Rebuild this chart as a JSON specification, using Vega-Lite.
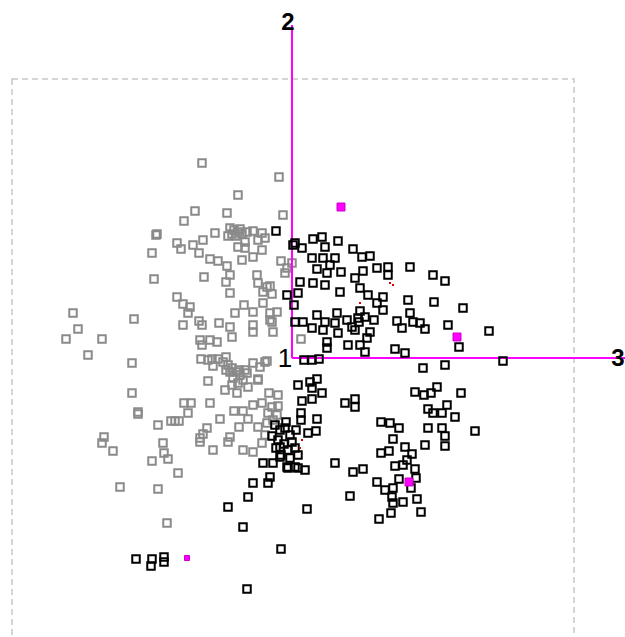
{
  "$schema": "https://vega.github.io/schema/vega-lite/v6.json",
  "width": 625,
  "height": 637,
  "padding": 0,
  "autosize": {"type": "none"},
  "background": "white",
  "config": {"view": {"stroke": null}},
  "datasets": {
    "gray": [
      {"x":202,"y":163},{"x":279,"y":177},{"x":238,"y":195},{"x":195,"y":211},{"x":184,"y":221},{"x":227,"y":213},{"x":283,"y":215},{"x":157,"y":234},{"x":156,"y":235},
      {"x":230,"y":228},{"x":234,"y":230},{"x":238,"y":232},{"x":232,"y":234},{"x":236,"y":236},{"x":240,"y":229},{"x":228,"y":236},{"x":242,"y":234},
      {"x":215,"y":233},{"x":203,"y":240},{"x":193,"y":245},{"x":177,"y":243},{"x":181,"y":249},{"x":199,"y":253},{"x":152,"y":253},
      {"x":247,"y":232},{"x":253,"y":231},{"x":262,"y":233},{"x":265,"y":238},{"x":258,"y":240},{"x":245,"y":242},{"x":238,"y":247},{"x":245,"y":248},{"x":262,"y":250},{"x":253,"y":257},{"x":242,"y":260},{"x":210,"y":259},{"x":218,"y":261},{"x":227,"y":266},
      {"x":154,"y":279},{"x":204,"y":277},{"x":230,"y":275},{"x":226,"y":282},{"x":230,"y":293},{"x":257,"y":275},{"x":258,"y":283},{"x":267,"y":287},{"x":272,"y":294},{"x":263,"y":292},{"x":270,"y":286},{"x":263,"y":303},
      {"x":281,"y":261},{"x":287,"y":268},{"x":292,"y":263},{"x":285,"y":273},
      {"x":177,"y":297},{"x":183,"y":304},{"x":190,"y":307},{"x":188,"y":313},{"x":199,"y":321},{"x":202,"y":325},{"x":183,"y":325},{"x":219,"y":323},{"x":230,"y":327},{"x":232,"y":337},
      {"x":235,"y":313},{"x":244,"y":305},{"x":253,"y":312},{"x":270,"y":313},{"x":272,"y":322},{"x":277,"y":312},{"x":270,"y":320},{"x":273,"y":332},{"x":253,"y":325},{"x":253,"y":332},
      {"x":200,"y":340},{"x":210,"y":340},{"x":217,"y":342},{"x":202,"y":345},{"x":201,"y":359},{"x":208,"y":360},{"x":212,"y":359},{"x":218,"y":359},{"x":226,"y":357},
      {"x":223,"y":362},{"x":228,"y":365},{"x":232,"y":368},{"x":236,"y":372},{"x":240,"y":375},{"x":233,"y":378},{"x":243,"y":380},{"x":238,"y":383},{"x":230,"y":372},{"x":226,"y":370},{"x":245,"y":370},
      {"x":239,"y":370},{"x":247,"y":373},{"x":208,"y":381},{"x":213,"y":366},{"x":253,"y":363},{"x":265,"y":362},{"x":267,"y":361},{"x":260,"y":367},{"x":258,"y":379},
      {"x":73,"y":313},{"x":78,"y":329},{"x":66,"y":339},{"x":102,"y":339},{"x":88,"y":355},{"x":134,"y":319},{"x":132,"y":363},{"x":132,"y":393},
      {"x":301,"y":339},
      {"x":138,"y":412},{"x":138,"y":414},{"x":184,"y":403},{"x":191,"y":403},{"x":188,"y":413},{"x":210,"y":403},{"x":225,"y":390},{"x":237,"y":393},{"x":232,"y":385},{"x":248,"y":387},{"x":258,"y":380},
      {"x":171,"y":421},{"x":175,"y":421},{"x":179,"y":421},
      {"x":158,"y":425},{"x":207,"y":428},{"x":203,"y":434},{"x":200,"y":438},{"x":200,"y":442},{"x":220,"y":419},{"x":234,"y":411},{"x":243,"y":411},{"x":248,"y":419},{"x":239,"y":427},{"x":230,"y":437},{"x":228,"y":442},
      {"x":253,"y":405},{"x":262,"y":403},{"x":269,"y":393},{"x":278,"y":395},{"x":268,"y":413},{"x":272,"y":407},{"x":278,"y":406},{"x":277,"y":415},{"x":258,"y":427},{"x":267,"y":423},{"x":273,"y":420},{"x":265,"y":435},{"x":262,"y":443},
      {"x":243,"y":450},{"x":253,"y":452},{"x":213,"y":450},{"x":104,"y":437},{"x":102,"y":443},{"x":113,"y":451},{"x":163,"y":443},{"x":164,"y":453},{"x":168,"y":459},{"x":152,"y":461},{"x":178,"y":473},{"x":120,"y":487},{"x":158,"y":489},{"x":167,"y":523}
    ],
    "black": [
      {"x":276,"y":231},
      {"x":293,"y":245},{"x":295,"y":243},{"x":302,"y":248},{"x":313,"y":239},{"x":322,"y":237},{"x":338,"y":241},{"x":325,"y":247},{"x":312,"y":258},{"x":323,"y":258},{"x":335,"y":258},{"x":330,"y":265},{"x":317,"y":269},{"x":341,"y":272},{"x":327,"y":273},
      {"x":353,"y":249},{"x":362,"y":257},{"x":370,"y":256},{"x":377,"y":268},{"x":388,"y":267},{"x":388,"y":275},{"x":410,"y":267},{"x":433,"y":275},{"x":445,"y":281},
      {"x":300,"y":282},{"x":313,"y":283},{"x":325,"y":285},{"x":340,"y":292},{"x":355,"y":278},{"x":363,"y":271},{"x":360,"y":288},{"x":368,"y":295},
      {"x":287,"y":295},{"x":298,"y":293},{"x":294,"y":305},{"x":383,"y":297},{"x":377,"y":303},{"x":383,"y":310},{"x":360,"y":311},{"x":358,"y":318},{"x":365,"y":317},{"x":408,"y":300},{"x":434,"y":302},{"x":463,"y":308},
      {"x":295,"y":322},{"x":303,"y":322},{"x":317,"y":315},{"x":312,"y":328},{"x":325,"y":322},{"x":337,"y":313},{"x":347,"y":320},{"x":352,"y":327},{"x":335,"y":323},{"x":359,"y":322},{"x":374,"y":320},{"x":323,"y":330},{"x":338,"y":333},{"x":355,"y":330},{"x":370,"y":332},{"x":367,"y":338},{"x":327,"y":342},{"x":327,"y":348},{"x":348,"y":345},{"x":360,"y":345},{"x":365,"y":352},
      {"x":395,"y":349},{"x":405,"y":353},{"x":397,"y":321},{"x":410,"y":313},{"x":413,"y":322},{"x":420,"y":323},{"x":425,"y":329},{"x":402,"y":328},{"x":448,"y":325},{"x":489,"y":331},{"x":459,"y":347},
      {"x":304,"y":360},{"x":312,"y":360},{"x":319,"y":359},{"x":503,"y":361},{"x":423,"y":368},{"x":445,"y":365},
      {"x":298,"y":385},{"x":310,"y":382},{"x":317,"y":379},{"x":312,"y":388},{"x":322,"y":393},{"x":302,"y":401},{"x":312,"y":399},{"x":345,"y":403},{"x":355,"y":399},{"x":355,"y":407},{"x":301,"y":413},{"x":301,"y":420},{"x":317,"y":419},{"x":308,"y":433},{"x":316,"y":431},
      {"x":275,"y":425},{"x":280,"y":430},{"x":285,"y":428},{"x":290,"y":435},{"x":278,"y":440},{"x":284,"y":444},{"x":292,"y":442},{"x":288,"y":450},{"x":276,"y":448},{"x":295,"y":448},{"x":281,"y":455},{"x":290,"y":458},{"x":272,"y":436},{"x":296,"y":430},{"x":286,"y":422},{"x":280,"y":447},{"x":287,"y":467},{"x":295,"y":467},{"x":280,"y":457},{"x":298,"y":455},
      {"x":263,"y":463},{"x":273,"y":463},{"x":288,"y":468},{"x":298,"y":468},{"x":305,"y":470},{"x":335,"y":463},{"x":353,"y":472},{"x":363,"y":469},{"x":253,"y":483},{"x":268,"y":483},{"x":270,"y":477},{"x":350,"y":496},{"x":307,"y":509},{"x":248,"y":497},{"x":228,"y":507},{"x":243,"y":527},{"x":281,"y":549},{"x":247,"y":589},
      {"x":136,"y":559},{"x":152,"y":559},{"x":151,"y":566},{"x":164,"y":557},{"x":164,"y":562},
      {"x":415,"y":392},{"x":424,"y":395},{"x":431,"y":393},{"x":437,"y":387},{"x":461,"y":393},{"x":428,"y":409},{"x":433,"y":413},{"x":442,"y":413},{"x":447,"y":405},{"x":455,"y":417},{"x":428,"y":428},{"x":442,"y":428},{"x":445,"y":436},{"x":445,"y":446},{"x":475,"y":431},{"x":381,"y":422},{"x":390,"y":423},{"x":399,"y":428},{"x":393,"y":439},{"x":425,"y":445},{"x":381,"y":453},{"x":389,"y":451},{"x":405,"y":447},{"x":412,"y":454},{"x":395,"y":466},{"x":403,"y":465},{"x":415,"y":469},{"x":407,"y":460},{"x":377,"y":482},{"x":385,"y":490},{"x":393,"y":488},{"x":399,"y":479},{"x":416,"y":478},{"x":411,"y":488},{"x":392,"y":497},{"x":393,"y":503},{"x":403,"y":502},{"x":417,"y":499},{"x":421,"y":512},{"x":391,"y":513},{"x":379,"y":519}
    ],
    "red": [
      {"x":393,"y":285},{"x":390,"y":283},{"x":302,"y":440},{"x":300,"y":448},{"x":360,"y":303}
    ],
    "magenta": [
      {"x":341,"y":207,"s":"big"},{"x":457,"y":337,"s":"big"},{"x":409,"y":482,"s":"big"},{"x":187,"y":558,"s":"small"}
    ],
    "axes": [
      {"x":292,"y":25,"x2":292,"y2":358},
      {"x":292,"y":358,"x2":625,"y2":358}
    ],
    "box": [
      {"x":12,"y":79,"x2":574,"y2":660}
    ],
    "labelsBold": [
      {"x":288,"y":23,"t":"2"},
      {"x":618,"y":359,"t":"3"}
    ],
    "labelsThin": [
      {"x":285,"y":359,"t":"1"}
    ]
  },
  "encoding": {
    "x": {"field":"x","type":"quantitative","scale":{"domain":[0,625],"nice":false,"zero":false},"axis":null},
    "y": {"field":"y","type":"quantitative","scale":{"domain":[0,637],"nice":false,"zero":false,"reverse":true},"axis":null}
  },
  "layer": [
    {
      "data": {"name":"box"},
      "mark": {"type":"rect","fill":null,"stroke":"#c8c8c8","strokeWidth":1.5,"strokeDash":[6,4]},
      "encoding": {"x2":{"field":"x2"},"y2":{"field":"y2"}}
    },
    {
      "data": {"name":"gray"},
      "mark": {"type":"point","shape":"square","size":56,"filled":false,"stroke":"#8a8a8a","strokeWidth":2,"opacity":1}
    },
    {
      "data": {"name":"axes"},
      "mark": {"type":"rule","color":"#ff00ff","strokeWidth":2},
      "encoding": {"x2":{"field":"x2"},"y2":{"field":"y2"}}
    },
    {
      "data": {"name":"black"},
      "mark": {"type":"point","shape":"square","size":56,"filled":false,"stroke":"#000000","strokeWidth":2,"opacity":1}
    },
    {
      "data": {"name":"red"},
      "mark": {"type":"point","shape":"square","size":4,"filled":true,"color":"#dd0000","opacity":1}
    },
    {
      "data": {"name":"magenta"},
      "mark": {"type":"point","shape":"square","filled":true,"color":"#ff00ff","opacity":1,"stroke":"#cc00cc","strokeWidth":1},
      "encoding": {"size":{"field":"s","type":"nominal","scale":{"domain":["big","small"],"range":[64,25]},"legend":null}}
    },
    {
      "data": {"name":"labelsBold"},
      "mark": {"type":"text","font":"Liberation Sans","fontWeight":"bold","fontSize":24,"color":"#000000","align":"center","baseline":"middle"},
      "encoding": {"text":{"field":"t"}}
    },
    {
      "data": {"name":"labelsThin"},
      "mark": {"type":"text","font":"Liberation Sans","fontWeight":"normal","fontSize":26,"color":"#000000","align":"center","baseline":"middle"},
      "encoding": {"text":{"field":"t"}}
    }
  ]
}
